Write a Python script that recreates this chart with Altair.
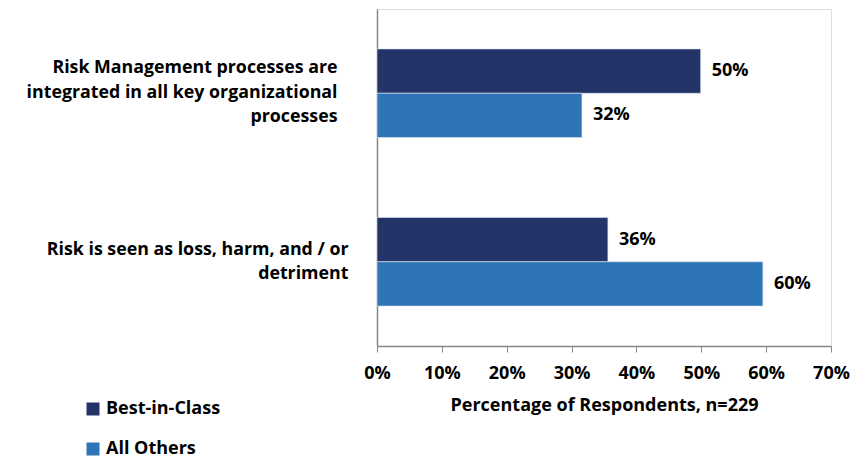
import altair as alt
import pandas as pd

categories = [
    "Risk Management processes are|integrated in all key organizational|processes",
    "Risk is seen as loss, harm, and / or|detriment",
]
series = ["Best-in-Class", "All Others"]
best_in_class = [49.9, 35.6]
all_others = [31.6, 59.5]
best_labels = ["50%", "36%"]
other_labels = ["32%", "60%"]
x_ticks = [0, 10, 20, 30, 40, 50, 60, 70]

rows = []
for i, c in enumerate(categories):
    rows.append({"cat": c, "series": series[0], "value": best_in_class[i], "label": best_labels[i]})
    rows.append({"cat": c, "series": series[1], "value": all_others[i], "label": other_labels[i]})
df = pd.DataFrame(rows)

FONT = "Open Sans"
FS = 18
DARK = "#243468"
LIGHT = "#2E75B7"
GREY = "#868686"

is_second = "indexof(datum.value, 'detriment') >= 0"

y_enc = alt.Y(
    "cat:N",
    sort=categories,
    scale=alt.Scale(paddingInner=0.474, paddingOuter=0.237),
    axis=alt.Axis(
        title=None,
        labelExpr="split(datum.label, '|')",
        labelFont=FONT,
        labelFontWeight="bold",
        labelFontSize=17.8,
        labelColor="black",
        labelLineHeight=24.5,
        labelAlign="right",
        labelBaseline="middle",
        labelPadding={"condition": {"test": is_second, "value": 29}, "value": 40},
        labelOffset={"condition": {"test": is_second, "value": -12}, "value": -25},
        labelLimit=400,
        ticks=False,
        domainColor=GREY,
        domainWidth=1.5,
    ),
)
yoff = alt.YOffset("series:N", sort=series, scale=alt.Scale(paddingInner=0, paddingOuter=0))

bars = alt.Chart(df).mark_bar(stroke="#dfe6f0", strokeWidth=0.6).encode(
    x=alt.X(
        "value:Q",
        scale=alt.Scale(domain=[0, 70], nice=False, zero=True),
        axis=alt.Axis(
            values=x_ticks,
            labelExpr="datum.value + '%'",
            title="Percentage of Respondents, n=229",
            titleFont=FONT,
            titleFontWeight="bold",
            titleFontSize=18,
            titleColor="black",
            titlePadding=14,
            labelFont=FONT,
            labelFontWeight="bold",
            labelFontSize=FS,
            labelColor="black",
            labelPadding=12,
            labelFlush=False,
            tickSize=6,
            tickColor=GREY,
            domainColor=GREY,
            domainWidth=1.5,
            grid=False,
        ),
    ),
    y=y_enc,
    yOffset=yoff,
    color=alt.Color(
        "series:N",
        sort=series,
        scale=alt.Scale(domain=series, range=[DARK, LIGHT]),
        legend=alt.Legend(
            title=None,
            orient="none",
            legendX=-293,
            legendY=391,
            direction="vertical",
            symbolType="square",
            symbolSize=169,
            symbolStrokeWidth=0,
            labelFont=FONT,
            labelFontWeight="bold",
            labelFontSize=FS,
            labelColor="black",
            labelOffset=4,
            rowPadding=22,
            padding=0,
        ),
    ),
)

texts = alt.Chart(df).mark_text(
    align="left", baseline="middle", dx=11, font=FONT, fontWeight="bold", fontSize=FS, color="black"
).encode(
    x="value:Q",
    y=alt.Y("cat:N", sort=categories),
    yOffset=alt.YOffset("series:N", sort=series),
    text="label:N",
)

chart = (
    alt.layer(bars, texts)
    .properties(
        width=454,
        height=337,
        autosize=alt.AutoSizeParams(type="none"),
        padding={"left": 369, "top": 1, "right": 20, "bottom": 112},
    )
    .configure_view(stroke=None)
    .configure(background="white")
)

chart.save("out.html", embed_options={"renderer": "svg", "actions": False})
